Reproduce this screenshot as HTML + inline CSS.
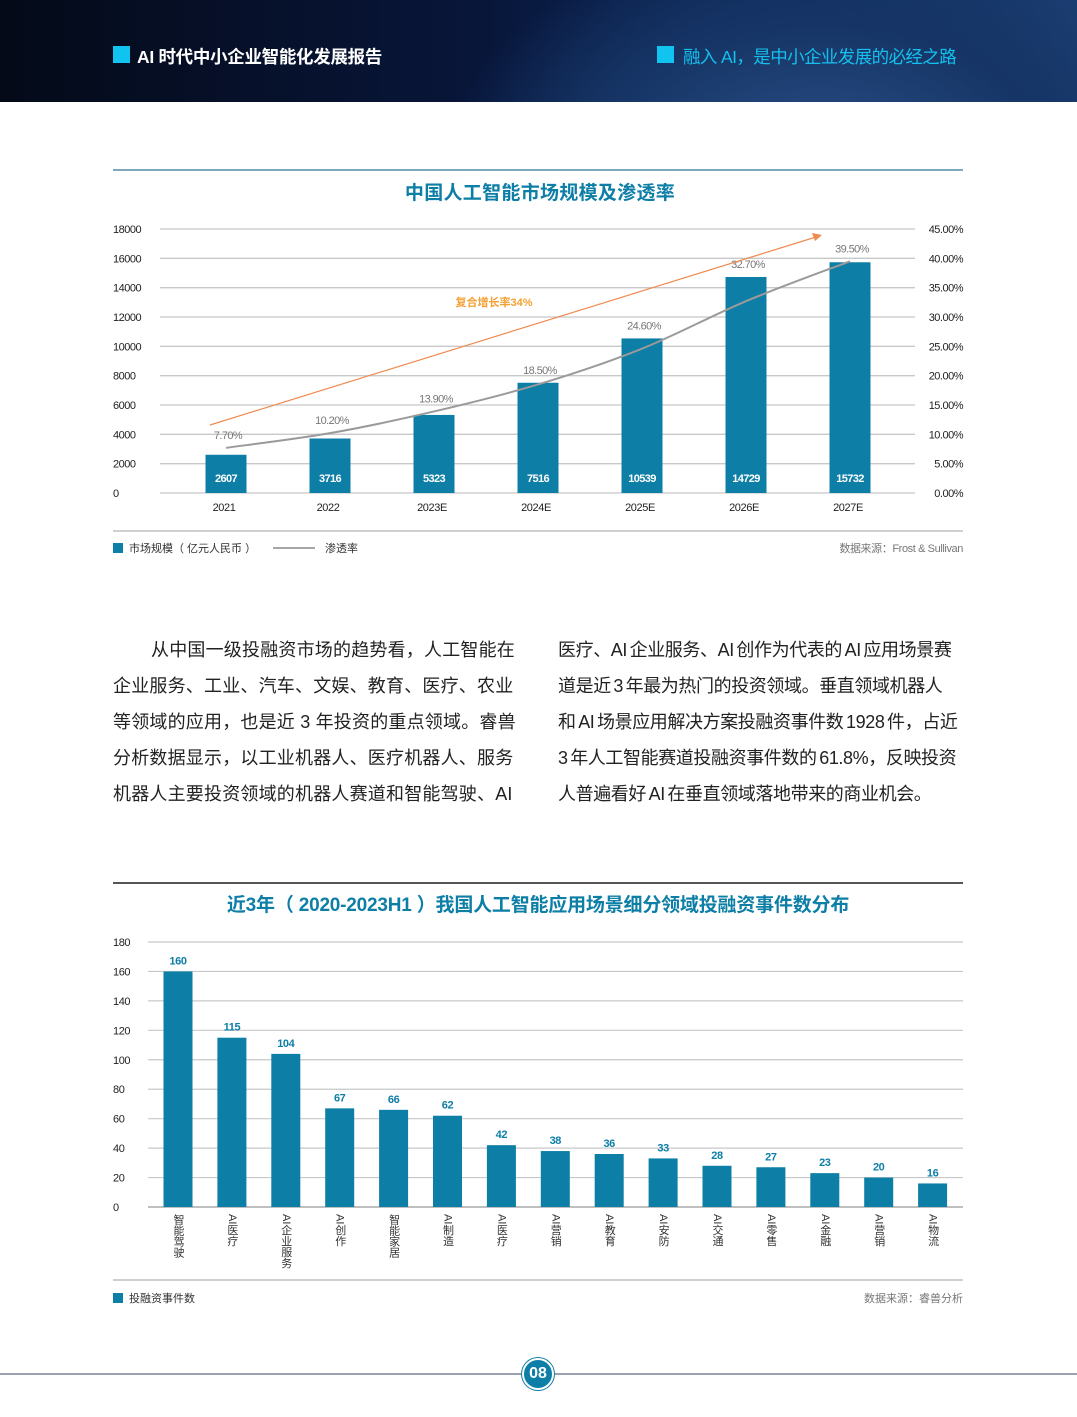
<!DOCTYPE html>
<html><head><meta charset="utf-8">
<style>
body{margin:0;width:1077px;height:1417px;background:#fff;position:relative;overflow:hidden;font-family:"Liberation Sans","Noto Sans CJK SC",sans-serif}
.hdr{position:absolute;left:0;top:0;width:1077px;height:102px;background:radial-gradient(ellipse 500px 300px at 820px 160px,#2a4f86 0%,#163566 45%,rgba(10,25,60,0) 75%),linear-gradient(90deg,#040a18 0%,#08163a 45%,#0e2a5c 70%,#1b3e72 100%)}
.para{position:absolute;font-size:18px;color:#222;line-height:36px;white-space:nowrap}
.para div{white-space:nowrap}
svg text{font-family:"Liberation Sans","Noto Sans CJK SC",sans-serif}
.vl{position:absolute;writing-mode:vertical-rl;font-size:11px;color:#333;line-height:12px;top:1214px;transform:translateX(-50%)}
</style></head><body>
<div class="hdr">
 <div style="position:absolute;left:113px;top:46px;width:17px;height:17px;background:#11c4f0"></div>
 <div style="position:absolute;left:137px;top:44px;color:#fff;font-size:17.5px;font-weight:bold;letter-spacing:-0.3px">AI 时代中小企业智能化发展报告</div>
 <div style="position:absolute;left:657px;top:46px;width:17px;height:17px;background:#11c4f0"></div>
 <div style="position:absolute;left:683px;top:44px;color:#13c0ee;font-size:17.5px;letter-spacing:-0.6px">融入 AI，是中小企业发展的必经之路</div>
</div>

<svg id="c1" width="1077" height="600" style="position:absolute;left:0;top:0"></svg>
<svg id="c2" width="1077" height="1417" style="position:absolute;left:0;top:0"></svg>

<div class="para" style="left:113px;top:632px;letter-spacing:0.2px">
<div><span style="display:inline-block;width:38px"></span>从中国一级投融资市场的趋势看，人工智能在</div>
<div>企业服务、工业、汽车、文娱、教育、医疗、农业</div>
<div>等领域的应用，也是近 3 年投资的重点领域。睿兽</div>
<div>分析数据显示，以工业机器人、医疗机器人、服务</div>
<div>机器人主要投资领域的机器人赛道和智能驾驶、AI</div>
</div>
<div class="para" style="left:558px;top:632px;letter-spacing:-0.4px;word-spacing:-2px">
<div>医疗、AI 企业服务、AI 创作为代表的 AI 应用场景赛</div>
<div>道是近 3 年最为热门的投资领域。垂直领域机器人</div>
<div>和 AI 场景应用解决方案投融资事件数 1928 件，占近</div>
<div>3 年人工智能赛道投融资事件数的 61.8%，反映投资</div>
<div>人普遍看好 AI 在垂直领域落地带来的商业机会。</div>
</div>
<div id="vlabels"></div>

<div style="position:absolute;left:0;top:1373px;width:1077px;height:2px;background:#9aa3ad"></div>
<div style="position:absolute;left:524px;top:1360px;width:28px;height:28px;border-radius:50%;background:#0d7ea6;border:2px solid #fff;box-shadow:0 0 0 1px #0d7ea6;color:#fff;font-weight:bold;font-size:16px;line-height:28px;text-align:center;margin-left:-2px;margin-top:-2px">08</div>

<script>
const years=['2021','2022','2023E','2024E','2025E','2026E','2027E'];
const marketSize=[2607,3716,5323,7516,10539,14729,15732];
const penetration=[7.70,10.20,13.90,18.50,24.60,32.70,39.50];
const leftTicks=[0,2000,4000,6000,8000,10000,12000,14000,16000,18000];
const rightTicks=['0.00%','5.00%','10.00%','15.00%','20.00%','25.00%','30.00%','35.00%','40.00%','45.00%'];

const cats=['智能驾驶','AI医疗','AI企业服务','AI创作','智能家居','AI制造','AI医疗','AI营销','AI教育','AI安防','AI交通','AI零售','AI金融','AI营销','AI物流'];
const events=[160,115,104,67,66,62,42,38,36,33,28,27,23,20,16];
const ticks2=[0,20,40,60,80,100,120,140,160,180];

const NS='http://www.w3.org/2000/svg';
function mk(svg,tag,a,txt){const e=document.createElementNS(NS,tag);for(const k in a)e.setAttribute(k,a[k]);if(txt!==undefined)e.textContent=txt;svg.appendChild(e);return e;}

// chart 1
const s1=document.getElementById('c1');
const y1=v=>493-v/18000*264;
const yp=v=>493-v/45*264;
const x1=i=>226+i*104;
let e;
e=mk(s1,'rect',{x:113,y:169,width:850,height:2,fill:'#7fa8bd'});
e=mk(s1,'text',{x:540,y:199,'text-anchor':'middle','font-size':19,'font-weight':'bold',fill:'#0d7ea6','letter-spacing':0.3},'中国人工智能市场规模及渗透率');
leftTicks.forEach((t,i)=>{
 e=mk(s1,'line',{x1:160,x2:915,y1:y1(t),y2:y1(t),stroke:'#c8c8c8','stroke-width':1.3});
 e=mk(s1,'text',{x:113,y:y1(t)+4,'font-size':11,fill:'#222','letter-spacing':-0.5},t);
 e=mk(s1,'text',{x:963,y:y1(t)+4,'font-size':11,fill:'#222','text-anchor':'end','letter-spacing':-0.5},rightTicks[i]);
});
marketSize.forEach((v,i)=>{
 e=mk(s1,'rect',{x:x1(i)-20.5,y:y1(v),width:41,height:493-y1(v),fill:'#0d7ea6'});
 e=mk(s1,'text',{x:x1(i),y:482,'text-anchor':'middle','font-size':11,'font-weight':'bold',fill:'#fff','letter-spacing':-0.6},v);
 e=mk(s1,'text',{x:x1(i)-2,y:511,'text-anchor':'middle','font-size':11,fill:'#222','letter-spacing':-0.4},years[i]);
});
const pts=penetration.map((p,i)=>[x1(i),yp(p)]);
let d='M'+pts[0][0]+','+pts[0][1];
for(let i=0;i<pts.length-1;i++){const p0=pts[Math.max(0,i-1)],p1=pts[i],p2=pts[i+1],p3=pts[Math.min(pts.length-1,i+2)];
 d+=` C${p1[0]+(p2[0]-p0[0])/6},${p1[1]+(p2[1]-p0[1])/6} ${p2[0]-(p3[0]-p1[0])/6},${p2[1]-(p3[1]-p1[1])/6} ${p2[0]},${p2[1]}`;}
e=mk(s1,'path',{d:d,fill:'none',stroke:'#9a9a9a','stroke-width':2});
penetration.forEach((p,i)=>{
 const top=Math.min(yp(p),y1(marketSize[i]));
 e=mk(s1,'text',{x:x1(i)+2,y:top-9,'text-anchor':'middle','font-size':11,fill:'#777','letter-spacing':-0.6},p.toFixed(2)+'%');
});
e=mk(s1,'line',{x1:210,y1:425,x2:816,y2:237,stroke:'#f08a50','stroke-width':1.2});
e=mk(s1,'polygon',{points:'822,235 812,233 815,241',fill:'#f08a50'});
e=mk(s1,'text',{x:494,y:306,'text-anchor':'middle','font-size':11,fill:'#f5a033','font-weight':'bold'},'复合增长率34%');
e=mk(s1,'rect',{x:113,y:530,width:850,height:2,fill:'#d0d0d0'});
e=mk(s1,'rect',{x:113,y:543,width:10,height:10,fill:'#0d7ea6'});
e=mk(s1,'text',{x:129,y:552,'font-size':11,fill:'#333'},'市场规模（ 亿元人民币 ）');
e=mk(s1,'line',{x1:273,x2:315,y1:548,y2:548,stroke:'#888','stroke-width':1.5});
e=mk(s1,'text',{x:325,y:552,'font-size':11,fill:'#333'},'渗透率');
e=mk(s1,'text',{x:963,y:552,'text-anchor':'end','font-size':11,fill:'#777','letter-spacing':-0.4},'数据来源：Frost & Sullivan');

// chart 2
const s2=document.getElementById('c2');
const y2=v=>1207-v/180*265;
const x2=i=>178+i*53.9;
e=mk(s2,'rect',{x:113,y:882,width:850,height:2,fill:'#555'});
e=mk(s2,'text',{x:538,y:911,'text-anchor':'middle','font-size':19,'font-weight':'bold',fill:'#0d7ea6','letter-spacing':-0.2},'近3年（ 2020-2023H1 ）我国人工智能应用场景细分领域投融资事件数分布');
ticks2.forEach(t=>{
 e=mk(s2,'line',{x1:148,x2:963,y1:y2(t),y2:y2(t),stroke:t==0?'#aaa':'#c8c8c8','stroke-width':t==0?1.6:1.2});
 e=mk(s2,'text',{x:113,y:y2(t)+4,'font-size':11,fill:'#222','letter-spacing':-0.4},t);
});
const vl=document.getElementById('vlabels');
events.forEach((v,i)=>{
 e=mk(s2,'rect',{x:x2(i)-14.5,y:y2(v),width:29,height:1207-y2(v),fill:'#0d7ea6'});
 e=mk(s2,'text',{x:x2(i),y:y2(v)-7,'text-anchor':'middle','font-size':11,'font-weight':'bold',fill:'#0d7ea6','letter-spacing':-0.4},v);
 const d=document.createElement('div');d.className='vl';d.style.left=x2(i)+'px';d.textContent=cats[i];
 
 
 vl.appendChild(d);
});
e=mk(s2,'rect',{x:113,y:1279,width:850,height:2,fill:'#d0d0d0'});
e=mk(s2,'rect',{x:113,y:1293,width:10,height:10,fill:'#0d7ea6'});
e=mk(s2,'text',{x:129,y:1302,'font-size':11,fill:'#333'},'投融资事件数');
e=mk(s2,'text',{x:963,y:1302,'text-anchor':'end','font-size':11,fill:'#777'},'数据来源：睿兽分析');
</script>
</body></html>
